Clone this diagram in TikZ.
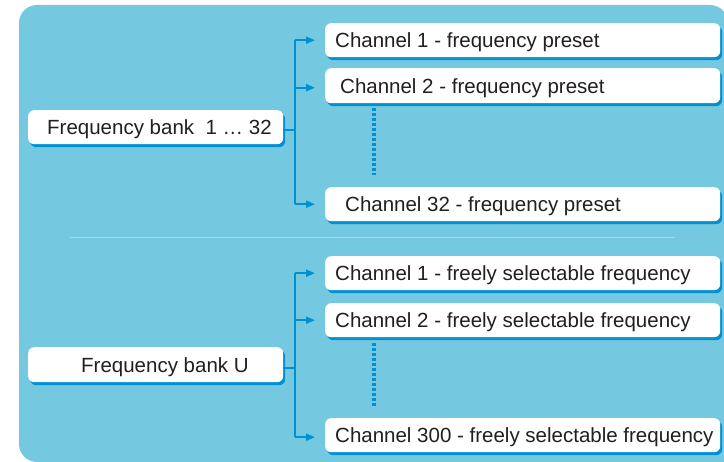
\documentclass[tikz,border=0pt]{standalone}
\usepackage{fontspec}
\setmainfont{Liberation Sans}
\usetikzlibrary{arrows.meta,shadows,calc}
\definecolor{bgblue}{RGB}{116,201,224}
\definecolor{lineblue}{RGB}{0,145,210}
\definecolor{sepblue}{RGB}{165,220,237}
\definecolor{txt}{RGB}{35,31,32}
\tikzset{
  box/.style={rectangle, rounded corners=6pt, fill=white, inner sep=0pt,
    anchor=north west, text height=14.7pt, text depth=0pt, text=txt,
    font=\fontsize{20.5}{24}\selectfont,
    drop shadow={shadow xshift=2pt, shadow yshift=-3pt, fill=lineblue, opacity=1}},
  conn/.style={draw=lineblue, line width=2pt},
  arr/.style={draw=lineblue, line width=2pt, -{Triangle[length=9pt,width=7pt]}, shorten >=10pt},
  dots/.style={draw=lineblue, line width=3.2pt, dash pattern=on 3pt off 2pt},
  sepline/.style={draw=sepblue, line width=1.5pt}
}
\newcommand{\bx}[3]{\makebox[#1pt][l]{\hspace*{#2pt}#3}}
\begin{document}
\begin{tikzpicture}[x=1pt,y=-1pt]
\useasboundingbox (0,0) rectangle (724,462);
\begin{scope}
\clip (0,0) rectangle (724,462);
\fill[bgblue, rounded corners=18pt] (760,462) -- (19,462) -- (19,5) -- (728,5) -- (728,520) -- (760,520);
\end{scope}
\draw[sepline] (70,237.5) -- (675,237.5);

% upper group
\node[box, minimum height=34pt] (B1) at (28,110) {\bx{255}{19}{Frequency bank\ \ 1 … 32}};
\node[box, minimum height=34pt] (C1) at (325,23) {\bx{395}{10}{Channel 1 - frequency preset}};
\node[box, minimum height=35pt] (C2) at (325,68) {\bx{395}{15}{Channel 2 - frequency preset}};
\node[box, minimum height=34pt] (C32) at (325,187) {\bx{395}{20}{Channel 32 - frequency preset}};

% lower group
\node[box, minimum height=35pt] (BU) at (28,347) {\bx{255}{53}{Frequency bank U}};
\node[box, minimum height=34pt] (D1) at (325,256) {\bx{395}{10}{Channel 1 - freely selectable frequency}};
\node[box, minimum height=34pt] (D2) at (325,303) {\bx{395}{10}{Channel 2 - freely selectable frequency}};
\node[box, minimum height=34pt] (D300) at (325,418) {\bx{395}{10}{Channel 300 - freely selectable frequency}};

% connectors upper
\draw[conn] ([yshift=-3pt]B1.east) -- ++(12,0) coordinate (j1);
\draw[conn] (j1 |- C1.west) -- (j1 |- C32.west);
\draw[arr] (j1 |- C1.west) -- (C1.west);
\draw[arr] ([yshift=-2pt]j1 |- C2.west) -- ([yshift=-2pt]C2.west);
\draw[arr] (j1 |- C32.west) -- (C32.west);

% connectors lower
\draw[conn] ([yshift=-3pt]BU.east) -- ++(12,0) coordinate (j2);
\draw[conn] (j2 |- D1.west) -- ([yshift=-2pt]j2 |- D300.west);
\draw[arr] (j2 |- D1.west) -- (D1.west);
\draw[arr] (j2 |- D2.west) -- (D2.west);
\draw[arr] ([yshift=-2pt]j2 |- D300.west) -- ([yshift=-2pt]D300.west);

% dotted continuation
\draw[dots] ($(C2.south west)+(49,5)$) -- ($(C32.north west)+(49,-12)$);
\draw[dots] ($(D2.south west)+(49,6)$) -- ($(D300.north west)+(49,-10)$);
\end{tikzpicture}
\end{document}
